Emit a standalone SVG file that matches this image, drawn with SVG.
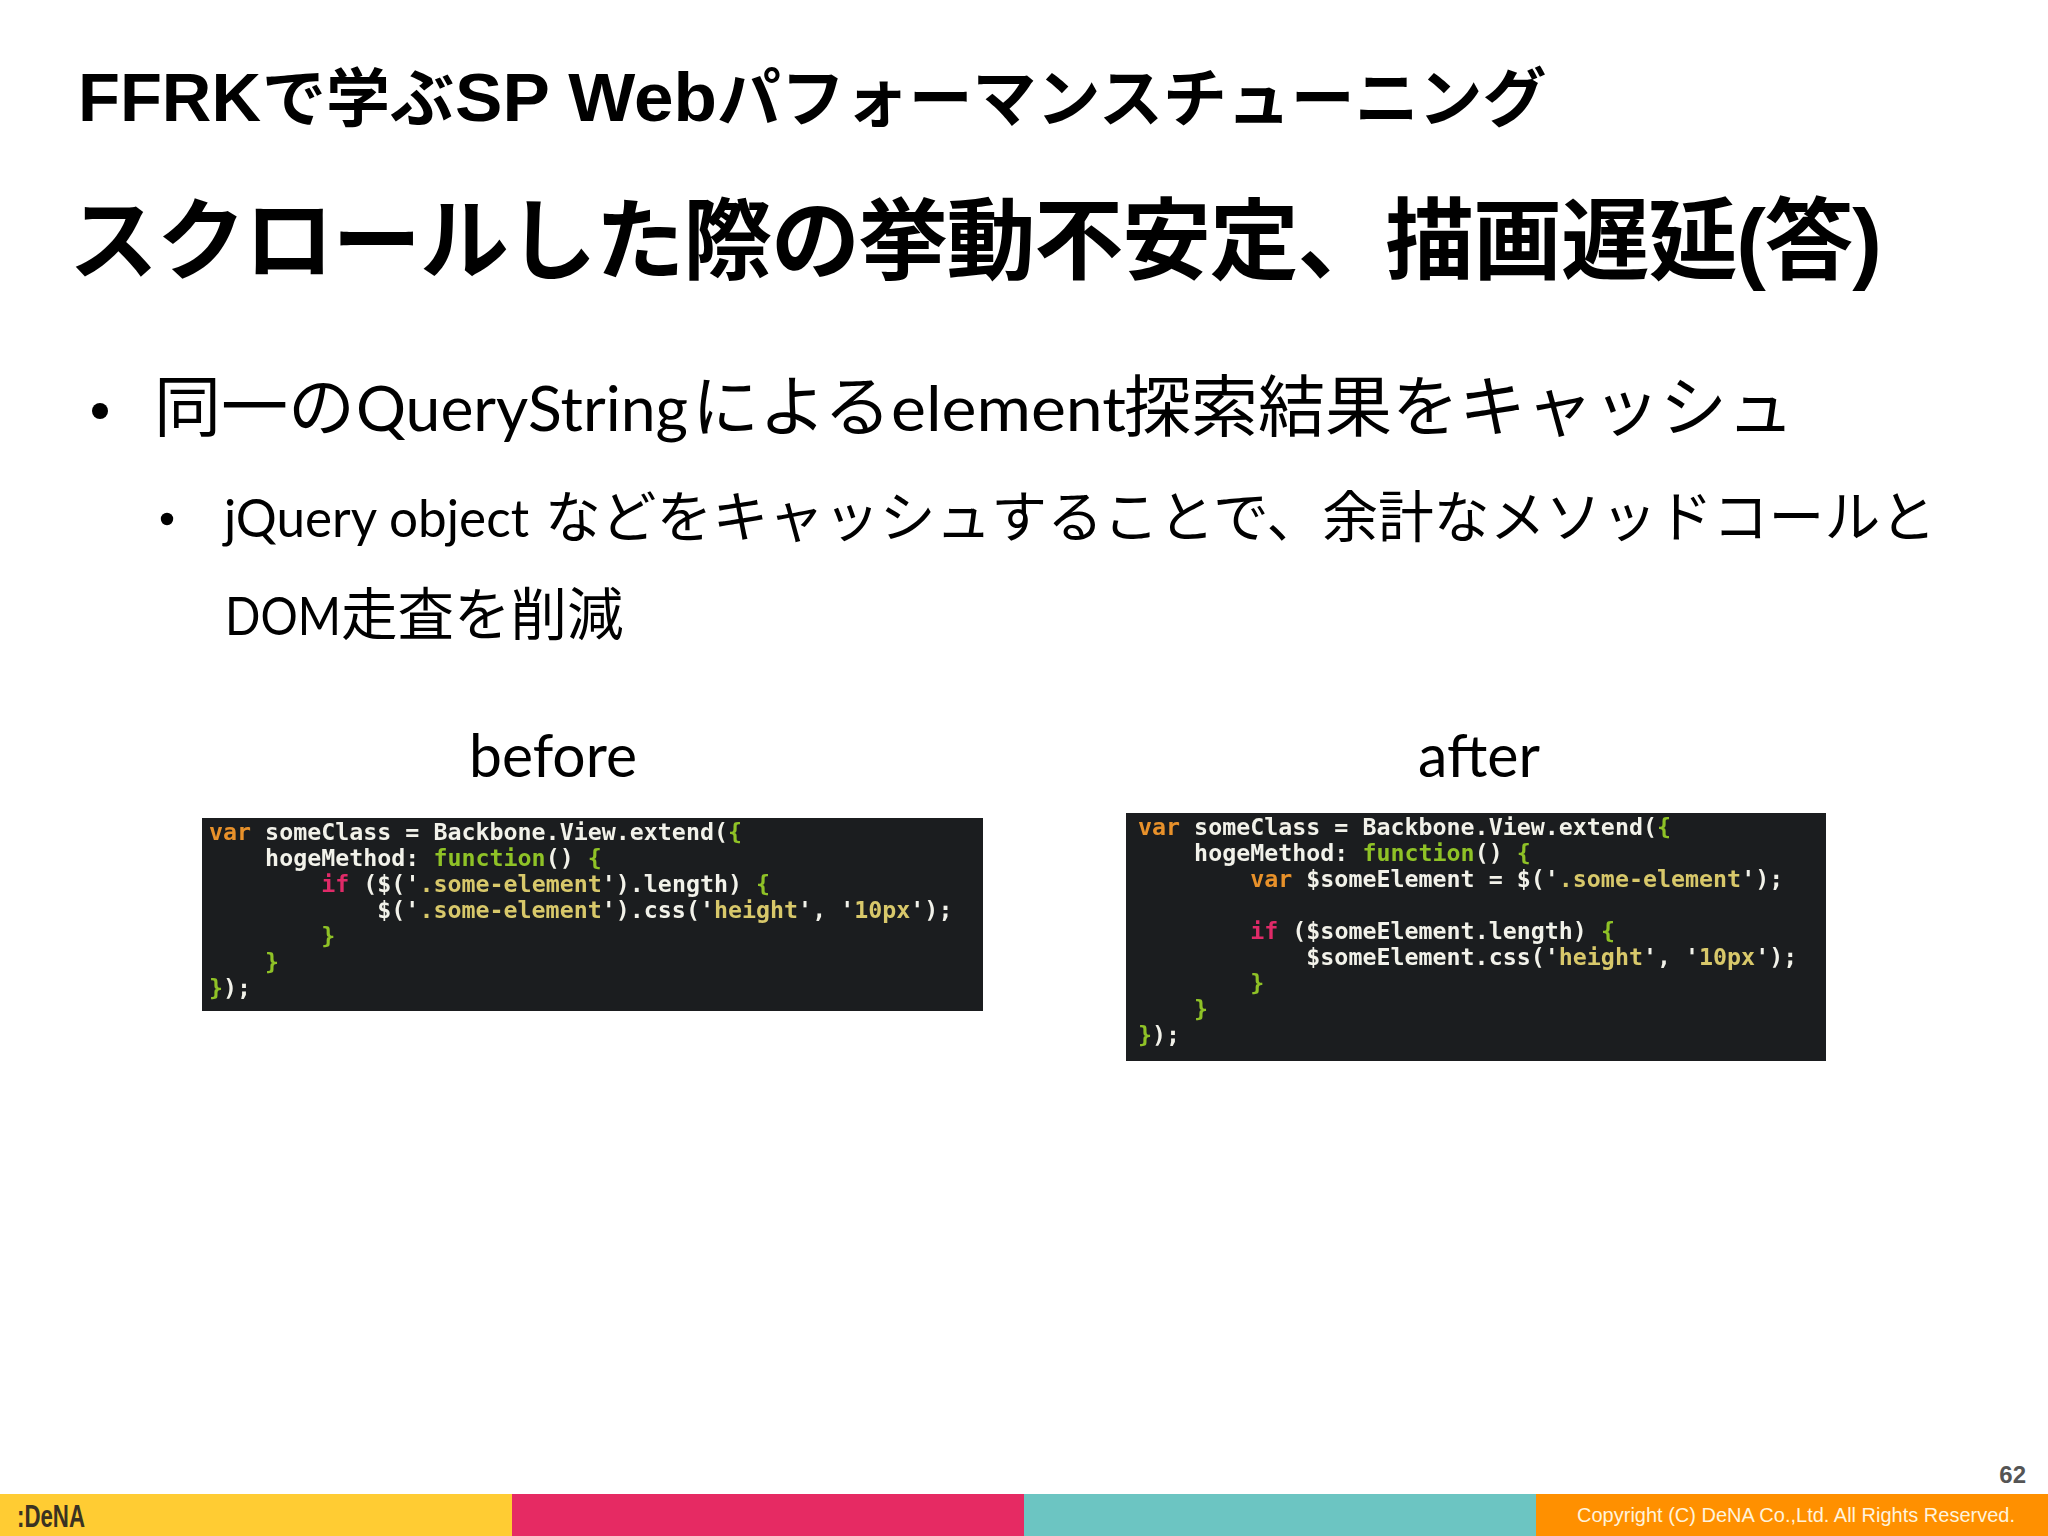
<svg xmlns="http://www.w3.org/2000/svg" width="2048" height="1536" viewBox="0 0 2048 1536">
<style>
text{white-space:pre}
.h{font-family:"Liberation Sans","Noto Sans CJK JP",sans-serif;font-weight:700;fill:#000}
.j{font-family:"Noto Sans CJK JP",sans-serif}
.b{font-family:"Noto Sans CJK JP",sans-serif;fill:#000;font-weight:400}
.l{font-family:Lato,sans-serif}
.c{font-family:"DejaVu Sans Mono","Liberation Mono",monospace;font-size:23.3px;fill:#f2f2ea;font-weight:700}
.k{fill:#e8912a}.p{fill:#e02a68}.g{fill:#8fc227}.s{fill:#d8c86a}
.code{fill:#1b1d1f}
</style>
<defs><filter id="soft" x="-2%" y="-5%" width="104%" height="110%"><feGaussianBlur stdDeviation="0.6"/></filter></defs>
<rect width="2048" height="1536" fill="#fff"/>
<g id="title">
<text class="h" y="121" font-size="68"><tspan x="78" textLength="183" lengthAdjust="spacingAndGlyphs">FFRK</tspan><tspan class="j" x="262" font-size="64">で学ぶ</tspan><tspan x="455" textLength="262" lengthAdjust="spacingAndGlyphs">SP Web</tspan><tspan class="j" x="717" font-size="63.9">パフォーマンスチューニング</tspan></text>
<text class="h" x="69" y="272" font-size="89" textLength="1813">スクロールした際の挙動不安定、描画遅延(答)</text>
</g>
<g id="bullets">
<circle cx="100" cy="411" r="8"/>
<text class="b" y="431" font-size="67"><tspan x="154">同一の</tspan><tspan class="l" x="356" font-size="62" textLength="332" lengthAdjust="spacingAndGlyphs">QueryString</tspan><tspan x="692">による</tspan><tspan class="l" x="891" font-size="62" textLength="235" lengthAdjust="spacingAndGlyphs">element</tspan><tspan x="1124">探索結果をキャッシュ</tspan></text>
<circle cx="167" cy="519" r="6.2"/>
<text class="b" y="537" font-size="55.8"><tspan class="l" x="224" font-size="52" textLength="305" lengthAdjust="spacingAndGlyphs">jQuery object</tspan> <tspan x="545">などをキャッシュすることで、余計なメソッドコールと</tspan></text>
<text class="b" y="635" font-size="56.5"><tspan class="l" x="225" font-size="52" textLength="116" lengthAdjust="spacingAndGlyphs">DOM</tspan><tspan x="341">走査を削減</tspan></text>
</g>
<g id="before">
<text class="b l" x="553" y="777" font-size="60" text-anchor="middle" textLength="168" lengthAdjust="spacingAndGlyphs">before</text>
<rect class="code" x="202" y="818" width="781" height="193"/>
<g filter="url(#soft)">
<text class="c" x="209" y="840"><tspan class="k">var</tspan> someClass = Backbone.View.extend(<tspan class="g">{</tspan></text>
<text class="c" x="209" y="866">    hogeMethod: <tspan class="g">function</tspan>() <tspan class="g">{</tspan></text>
<text class="c" x="209" y="892">        <tspan class="p">if</tspan> ($('<tspan class="s">.some-element</tspan>').length) <tspan class="g">{</tspan></text>
<text class="c" x="209" y="918">            $('<tspan class="s">.some-element</tspan>').css('<tspan class="s">height</tspan>', '<tspan class="s">10px</tspan>');</text>
<text class="c g" x="209" y="944">        }</text>
<text class="c g" x="209" y="970">    }</text>
<text class="c" x="209" y="996"><tspan class="g">}</tspan>);</text>
</g>
</g>
<g id="after">
<text class="b l" x="1479" y="777" font-size="60" text-anchor="middle" textLength="122" lengthAdjust="spacingAndGlyphs">after</text>
<rect class="code" x="1126" y="813" width="700" height="248"/>
<g filter="url(#soft)">
<text class="c" x="1138" y="835"><tspan class="k">var</tspan> someClass = Backbone.View.extend(<tspan class="g">{</tspan></text>
<text class="c" x="1138" y="861">    hogeMethod: <tspan class="g">function</tspan>() <tspan class="g">{</tspan></text>
<text class="c" x="1138" y="887">        <tspan class="k">var</tspan> $someElement = $('<tspan class="s">.some-element</tspan>');</text>
<text class="c" x="1138" y="939">        <tspan class="p">if</tspan> ($someElement.length) <tspan class="g">{</tspan></text>
<text class="c" x="1138" y="965">            $someElement.css('<tspan class="s">height</tspan>', '<tspan class="s">10px</tspan>');</text>
<text class="c g" x="1138" y="991">        }</text>
<text class="c g" x="1138" y="1017">    }</text>
<text class="c" x="1138" y="1043"><tspan class="g">}</tspan>);</text>
</g>
</g>
<g id="footer">
<rect x="0" y="1494" width="512" height="42" fill="#ffcc33"/>
<rect x="512" y="1494" width="512" height="42" fill="#e62a63"/>
<rect x="1024" y="1494" width="512" height="42" fill="#6cc5c2"/>
<rect x="1536" y="1494" width="512" height="42" fill="#ff9000"/>
<text x="17" y="1527" font-family="Liberation Sans Narrow,Liberation Sans,sans-serif" font-weight="700" font-size="32" fill="#3a3222" textLength="68" lengthAdjust="spacingAndGlyphs">:DeNA</text>
<text x="2015" y="1522" text-anchor="end" font-family="Liberation Sans,sans-serif" font-size="20" fill="#fff3dc">Copyright (C) DeNA Co.,Ltd. All Rights Reserved.</text>
<text x="2026" y="1483" text-anchor="end" font-family="Liberation Sans,sans-serif" font-weight="700" font-size="24" fill="#555">62</text>
</g>
</svg>
